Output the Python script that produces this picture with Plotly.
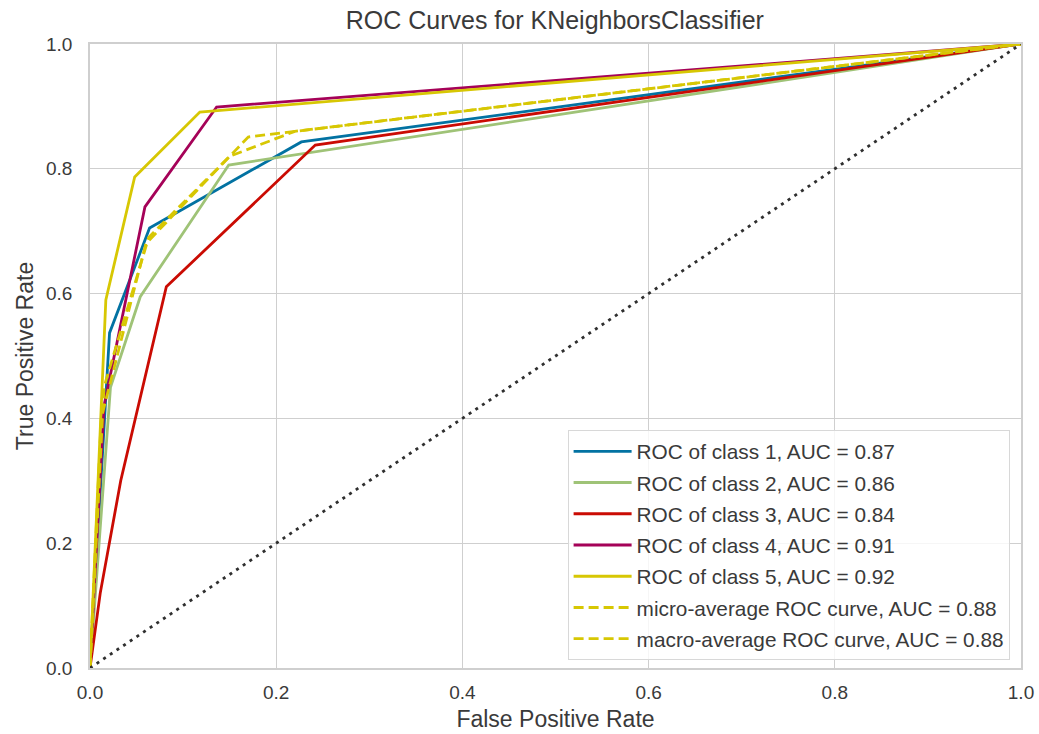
import plotly.graph_objects as go

# ROC curve points (false positive rate, true positive rate) per class
class_names = ["ROC of class 1, AUC = 0.87", "ROC of class 2, AUC = 0.86",
               "ROC of class 3, AUC = 0.84", "ROC of class 4, AUC = 0.91",
               "ROC of class 5, AUC = 0.92"]
fpr_c1 = [0.0, 0.018, 0.021, 0.064, 0.227, 1.0]
tpr_c1 = [0.0, 0.46, 0.537, 0.705, 0.843, 1.0]
fpr_c2 = [0.0, 0.022, 0.054, 0.149, 1.0]
tpr_c2 = [0.0, 0.45, 0.595, 0.806, 1.0]
fpr_c3 = [0.0, 0.011, 0.033, 0.082, 0.242, 1.0]
tpr_c3 = [0.0, 0.12, 0.30, 0.611, 0.838, 1.0]
fpr_c4 = [0.0, 0.015, 0.059, 0.136, 1.0]
tpr_c4 = [0.0, 0.42, 0.739, 0.899, 1.0]
fpr_c5 = [0.0, 0.017, 0.048, 0.118, 1.0]
tpr_c5 = [0.0, 0.59, 0.787, 0.891, 1.0]

micro_name = "micro-average ROC curve, AUC = 0.88"
fpr_micro = [0.0, 0.012, 0.06, 0.17, 1.0]
tpr_micro = [0.0, 0.40, 0.68, 0.851, 1.0]
macro_name = "macro-average ROC curve, AUC = 0.88"
fpr_macro = [0.0, 0.015, 0.063, 0.15, 0.22, 1.0]
tpr_macro = [0.0, 0.45, 0.69, 0.82, 0.86, 1.0]

diag = [0.0, 1.0]

colors = ["#0272a2", "#9fc377", "#ca0b03", "#a50258", "#d7c703"]
avg_color = "#d7c703"
font_family = "Liberation Sans, Arial, sans-serif"
text_color = "#3a3a3a"

fig = go.Figure()
class_data = [(fpr_c1, tpr_c1), (fpr_c2, tpr_c2), (fpr_c3, tpr_c3),
              (fpr_c4, tpr_c4), (fpr_c5, tpr_c5)]
for i, ((fx, ty), name) in enumerate(zip(class_data, class_names)):
    fig.add_trace(go.Scatter(x=fx, y=ty, mode="lines", name=name,
                             legendgroup=f"g{i}",
                             line=dict(color=colors[i], width=2.8)))

fig.add_trace(go.Scatter(x=fpr_micro, y=tpr_micro, mode="lines", name=micro_name,
                         legendgroup="micro",
                         line=dict(color=avg_color, width=2.8, dash="10px,5px")))
fig.add_trace(go.Scatter(x=fpr_macro, y=tpr_macro, mode="lines", name=macro_name,
                         legendgroup="macro",
                         line=dict(color=avg_color, width=2.8, dash="10px,5px")))

# chance line
fig.add_trace(go.Scatter(x=diag, y=diag, mode="lines", showlegend=False,
                         line=dict(color="#2f2f2f", width=2.8, dash="3px,5px")))

axis_common = dict(range=[0, 1], dtick=0.2, tickformat=".1f", automargin=False,
                   showgrid=True, gridcolor="#cfcfcf", gridwidth=1,
                   showline=True, linecolor="#cfcfcf", linewidth=1.5, mirror=True,
                   zeroline=False, ticks="outside", tickcolor="rgba(0,0,0,0)",
                   tickfont=dict(size=19, color=text_color, family=font_family))

fig.update_layout(
    width=1039, height=734,
    margin=dict(l=90, r=18, t=44, b=66, autoexpand=False),
    paper_bgcolor="white", plot_bgcolor="white",
    font=dict(family=font_family, color=text_color),
    title=dict(text="ROC Curves for KNeighborsClassifier", x=0.534, xanchor="center",
               y=0.972, yanchor="middle",
               font=dict(size=25, color=text_color, family=font_family)),
    xaxis=dict(axis_common, ticklen=6,
               title=dict(text="False Positive Rate", standoff=9,
                          font=dict(size=23, color=text_color))),
    yaxis=dict(axis_common, ticklen=12,
               title=dict(text="True Positive Rate", standoff=6,
                          font=dict(size=23, color=text_color))),
    legend=dict(x=0.513, y=0.381, xanchor="left", yanchor="top",
                bgcolor="rgba(255,255,255,0.8)", bordercolor="#d8d8d8", borderwidth=1,
                font=dict(size=20.8, color=text_color, family=font_family),
                itemwidth=58, tracegroupgap=1.2),
    showlegend=True,
)

fig.write_html("out.html")
